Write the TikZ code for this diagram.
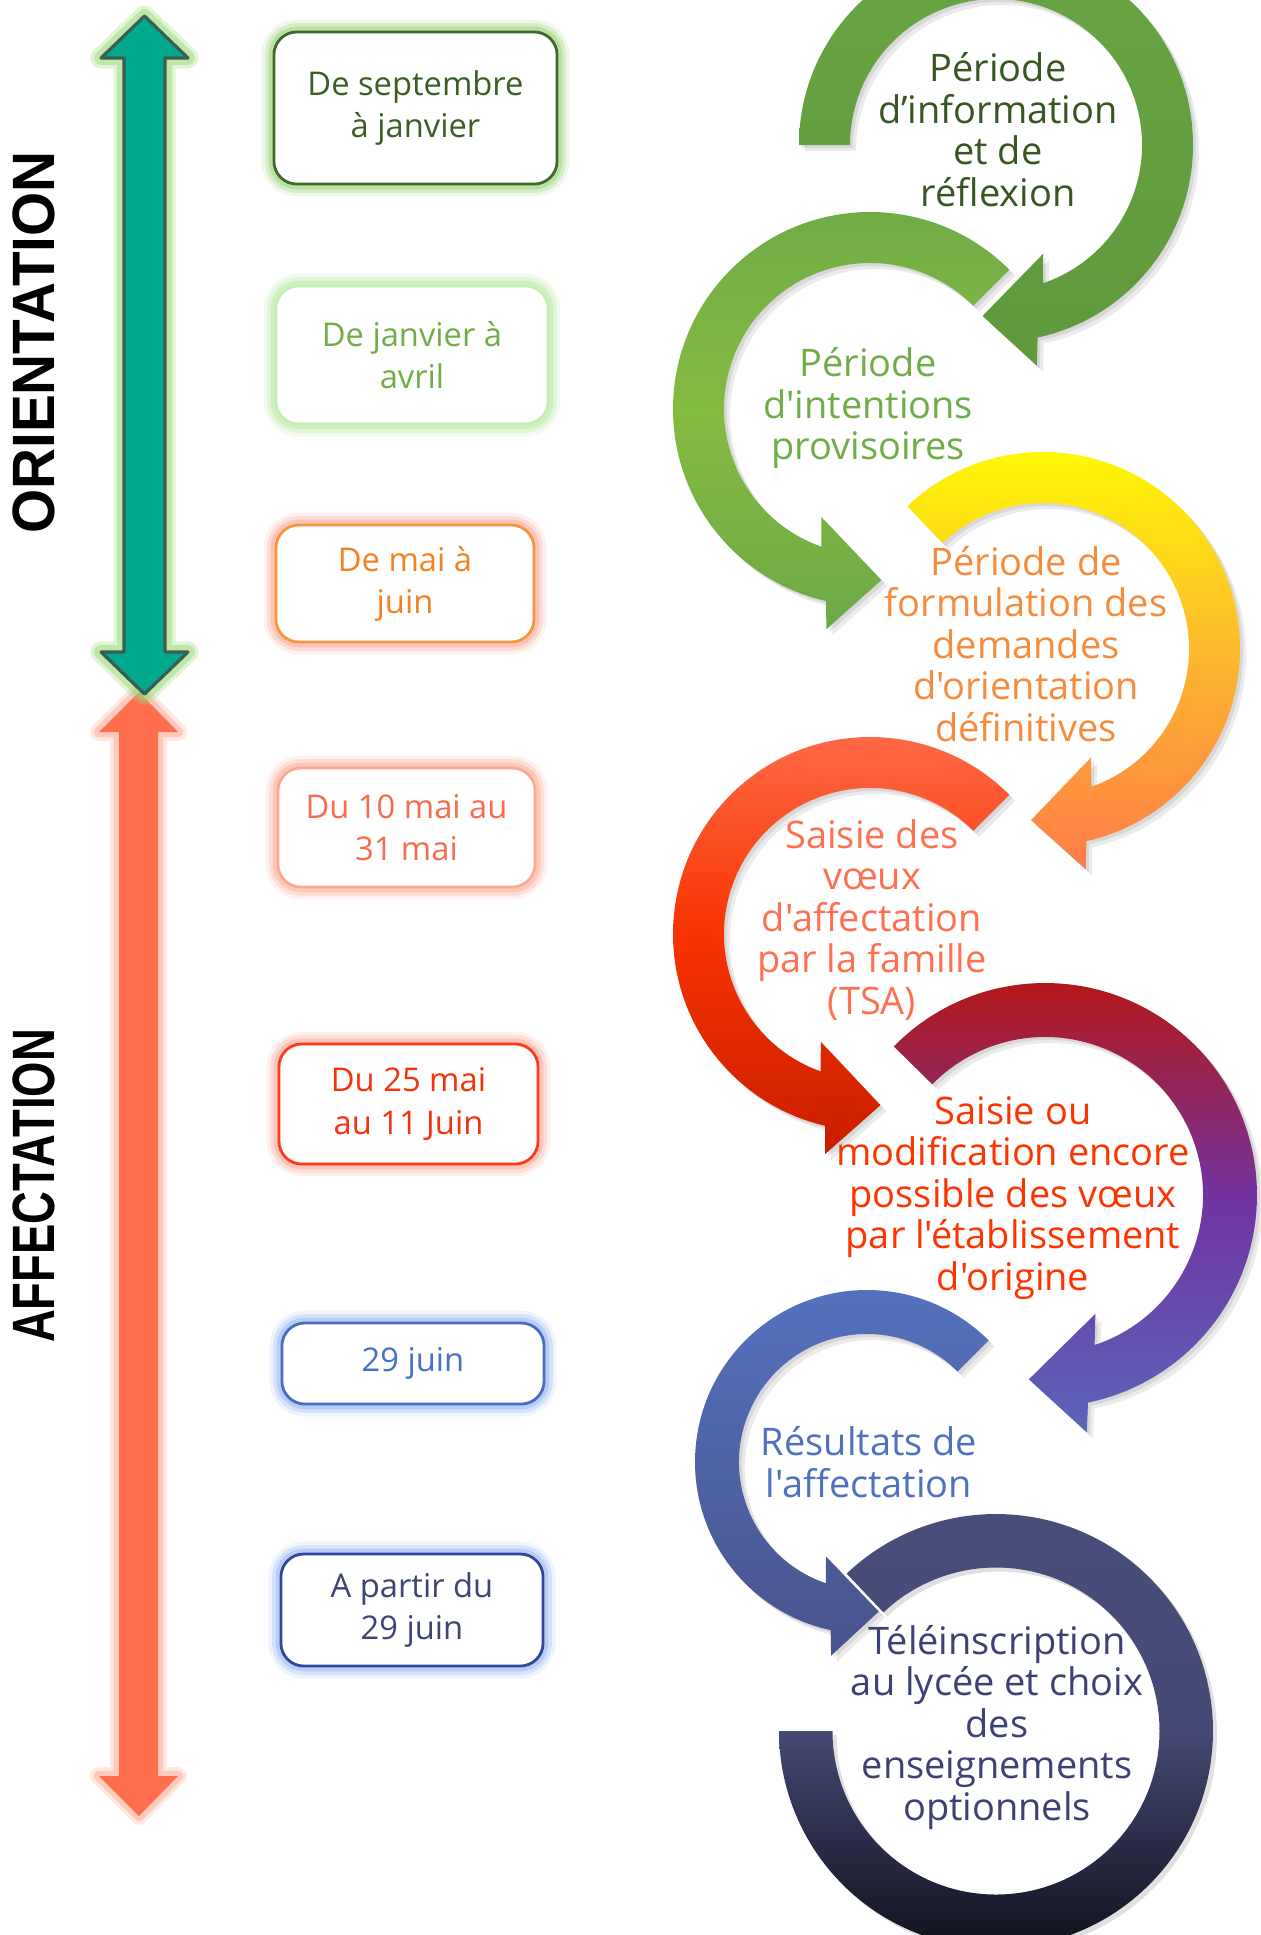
\documentclass[tikz,border=0pt]{standalone}
\usepackage{fontspec}
\setmainfont{Open Sans}[Ligatures=TeXOff]
\newfontfamily\labfont{Liberation Sans}
\usepackage{tikz}

% left timeline
\definecolor{ori-green}{HTML}{00A98B}
\definecolor{ori-line}{HTML}{3D5B56}
\definecolor{ori-glow}{HTML}{9BDD78}
\definecolor{aff-coral}{HTML}{FF6F4E}
\definecolor{aff-glow}{HTML}{FFA48E}

% date boxes
\definecolor{b1-line}{HTML}{41692D}
\definecolor{b1-text}{HTML}{3B5E26}
\definecolor{b1-glow}{HTML}{8FD06A}
\definecolor{b2-line}{HTML}{C8EDB4}
\definecolor{b2-text}{HTML}{70AD47}
\definecolor{b2-glow}{HTML}{B2E898}
\definecolor{b3-line}{HTML}{F7963C}
\definecolor{b3-text}{HTML}{F4811F}
\definecolor{b3-glow}{HTML}{FBA08E}
\definecolor{b4-line}{HTML}{FBAA95}
\definecolor{b4-text}{HTML}{F76C4B}
\definecolor{b4-glow}{HTML}{FDA792}
\definecolor{b5-line}{HTML}{FF3A1A}
\definecolor{b5-text}{HTML}{F53209}
\definecolor{b5-glow}{HTML}{FBA290}
\definecolor{b6-line}{HTML}{4A6CBF}
\definecolor{b6-text}{HTML}{4472C4}
\definecolor{b6-glow}{HTML}{8FB0F2}
\definecolor{b7-line}{HTML}{33479A}
\definecolor{b7-text}{HTML}{3E4476}

% circular arrows
\definecolor{a1-top}{HTML}{68A544}
\definecolor{a1-bot}{HTML}{5E9A3B}
\definecolor{a2-top}{HTML}{6EAB47}
\definecolor{a2-mid}{HTML}{84BB41}
\definecolor{a2-bot}{HTML}{6CA946}
\definecolor{a3-mid}{HTML}{FCB92E}
\definecolor{a3-bot}{HTML}{FF7C48}
\definecolor{a4-top}{HTML}{FF6E4D}
\definecolor{a4-mid}{HTML}{F73300}
\definecolor{a4-bot}{HTML}{C91E00}
\definecolor{a5-top}{HTML}{BA160C}
\definecolor{a5-mid}{HTML}{7233A0}
\definecolor{a5-bot}{HTML}{5A66BA}
\definecolor{a6-top}{HTML}{5573C0}
\definecolor{a6-bot}{HTML}{48538B}
\definecolor{a7-top}{HTML}{4A4E7B}
\definecolor{a7-mid}{HTML}{454975}
\definecolor{a7-bot}{HTML}{0B0B13}

% step texts
\definecolor{t1}{HTML}{375623}
\definecolor{t2}{HTML}{70AD47}
\definecolor{t3}{HTML}{F68B3C}
\definecolor{t4}{HTML}{FF7050}
\definecolor{t5}{HTML}{FF3300}
\definecolor{t6}{HTML}{5070C0}
\definecolor{t7}{HTML}{3D4175}

% centre x, centre y, outer r, inner r, start, end, sense, head, shading
\newcommand{\circarrow}[9]{%
	\pgfmathsetmacro{\rmid}{(#3+#4)/2}
	\pgfmathsetmacro{\bo}{#6+3.3*#7}
	\pgfmathsetmacro{\bi}{#6-3.3*#7}
	\pgfmathsetmacro{\co}{#6+5*#7}
	\pgfmathsetmacro{\ci}{#6-8*#7}
	\pgfmathsetmacro{\tp}{#6+20*#7}
	\pgfmathsetmacro{\rco}{\rmid+#8}
	\pgfmathsetmacro{\rci}{\rmid-#8}
	\def\arrowpath{(#5:#3) arc[start angle=#5, end angle=\bo, radius=#3] -- (\co:\rco) -- (\tp:\rmid) -- (\ci:\rci) -- (\bi:#4) arc[start angle=\bi, end angle=#5, radius=#4] -- cycle}
	\begin{scope}[shift={(#1,-#2)}]
		\fill[black, opacity=.08, shift={(6,-6)}] \arrowpath;
		\fill[black, opacity=.08, shift={(3,-3)}] \arrowpath;
		\shade[#9] \arrowpath;
	\end{scope}}

\begin{document}
\begin{tikzpicture}[x=0.01cm, y=0.01cm,
	datebox/.style n args={3}{draw=#1, text=#2, fill=white, line width=.8pt, rounded corners=6.5pt,
		align=center, inner sep=0pt, font=\fontsize{9.3}{12}\selectfont,
		preaction={draw=#3, line width=7pt, draw opacity=.15},
		preaction={draw=#3, line width=5pt, draw opacity=.25},
		preaction={draw=#3, line width=3pt, draw opacity=.4}},
	steptext/.style={align=center, text=#1, font=\fontsize{10.8}{11.8}\selectfont},
	sidelabel/.style={rotate=90, font=\labfont\bfseries\fontsize{17}{17}\selectfont}]

			\clip (0,0) rectangle (1261,-1935);
			\fill[white] (0,0) rectangle (1261,-1935);

			% timeline arrows
			\fill[aff-coral,
				preaction={draw=aff-glow, line width=5pt, line join=round, draw opacity=.25},
				preaction={draw=aff-glow, line width=3pt, line join=round, draw opacity=.45}]
				(139,-692) -- (178,-732) -- (158,-732) -- (158,-1776) -- (178,-1776) -- (139,-1816)
				-- (99,-1776) -- (119,-1776) -- (119,-732) -- (99,-732) -- cycle;
			\filldraw[fill=ori-green, draw=ori-line, line width=.9pt, line join=round,
				preaction={draw=ori-glow, line width=6pt, line join=round, draw opacity=.3},
				preaction={draw=ori-glow, line width=4pt, line join=round, draw opacity=.5}]
				(144.5,-16) -- (188,-58) -- (165,-58) -- (165,-652) -- (188,-652) -- (144.5,-694)
				-- (101,-652) -- (124,-652) -- (124,-58) -- (101,-58) -- cycle;

			\node[sidelabel] (orient) at (34,-342.5) {\scalebox{0.95}[1]{ORIENTATION}};
			\node[sidelabel] (affect) at (34,-1186) {\scalebox{0.76}[1]{AFFECTATION}};

			% dates
			\node[datebox={b1-line}{b1-text}{b1-glow}, minimum width=2.83cm, minimum height=1.52cm] (d1) at (415.5,-108) {De septembre\\à janvier};
			\node[datebox={b2-line}{b2-text}{b2-glow}, minimum width=2.72cm, minimum height=1.38cm] (d2) at (412,-355) {De janvier à\\avril};
			\node[datebox={b3-line}{b3-text}{b3-glow}, minimum width=2.58cm, minimum height=1.17cm] (d3) at (405,-583.5) {De mai à\\juin};
			\node[datebox={b4-line}{b4-text}{b4-glow}, minimum width=2.57cm, minimum height=1.19cm] (d4) at (406.5,-827.5) {Du 10 mai au\\31 mai};
			\node[datebox={b5-line}{b5-text}{b5-glow}, minimum width=2.59cm, minimum height=1.20cm] (d5) at (408.5,-1104) {Du 25 mai\\au 11 Juin};
			\node[datebox={b6-line}{b6-text}{b6-glow}, minimum width=2.62cm, minimum height=0.81cm] (d6) at (413,-1363.5) {29 juin};
			\node[datebox={b7-line}{b7-text}{b6-glow}, minimum width=2.62cm, minimum height=1.12cm] (d7) at (412,-1610) {A partir du\\29 juin};

			% steps
			\circarrow{996}{145}{197}{146}{180}{-74.5}{-1}{53}{top color=a1-top, bottom color=a1-bot}
			\circarrow{870}{409}{197}{146}{45}{253.8}{1}{53}{top color=a2-top, bottom color=a2-bot, middle color=a2-mid}
			\circarrow{1043}{649}{197}{146}{133.5}{-74}{-1}{53}{top color=yellow, bottom color=a3-bot, middle color=a3-mid}
			\circarrow{870}{934}{197}{146}{45}{253.5}{1}{53}{top color=a4-top, bottom color=a4-bot, middle color=a4-mid}
			\circarrow{1045}{1195}{212}{158}{135.5}{-75}{-1}{56}{top color=a5-top, bottom color=a5-bot, middle color=a5-mid}
			\circarrow{867}{1462}{172}{128}{45}{254.5}{1}{47}{top color=a6-top, bottom color=a6-bot}
			\begin{scope}[shift={(996,-1731)}]
				\fill[black, opacity=.12, shift={(4,-4)}] (133.5:217) arc[start angle=133.5, end angle=-180, radius=217] -- (-180:163.5) arc[start angle=-180, end angle=133.5, radius=163.5] -- cycle;
				\shade[top color=a7-top, bottom color=a7-bot, middle color=a7-mid] (133.5:217) arc[start angle=133.5, end angle=-180, radius=217] -- (-180:163.5) arc[start angle=-180, end angle=133.5, radius=163.5] -- cycle;
			\end{scope}

			\node[steptext=t1] (p1) at (998,-129.5) {Période\\d’information\\et de\\réflexion};
			\node[steptext=t2] (p2) at (868,-408) {Période\\d'intentions\\provisoires};
			\node[steptext=t3] (p3) at (1026,-644) {Période de\\formulation des\\demandes\\d'orientation\\définitives};
			\node[steptext=t4] (p4) at (872,-920) {Saisie des\\vœux\\d'affectation\\par la famille\\(TSA)};
			\node[steptext=t5] (p5) at (1013,-1198) {Saisie ou\\modification encore\\possible des vœux\\par l'établissement\\d'origine};
			\node[steptext=t6] (p6) at (869,-1462) {Résultats de\\l'affectation};
			\node[steptext=t7] (p7) at (997,-1727) {Téléinscription\\au lycée et choix\\des\\enseignements\\optionnels};
\end{tikzpicture}
\end{document}
